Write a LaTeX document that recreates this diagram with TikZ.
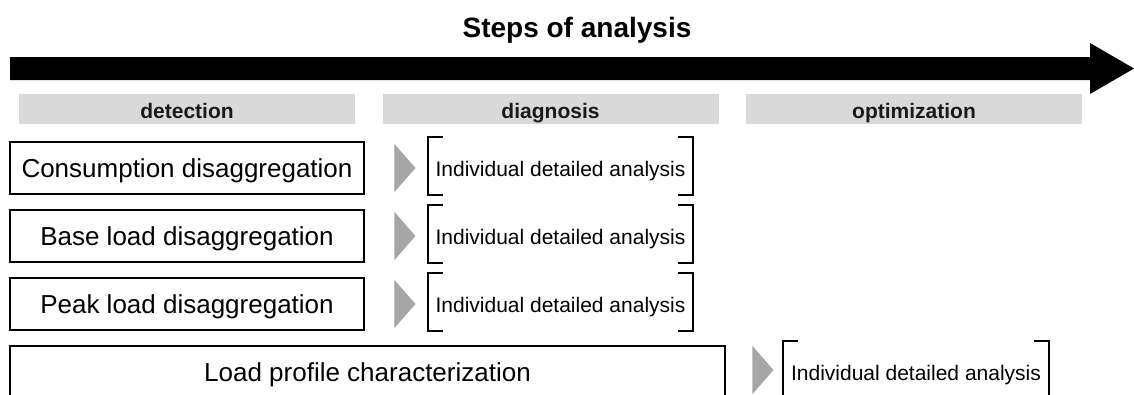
\documentclass[tikz,border=0pt]{standalone}
\usepackage{fontspec}
\setmainfont{Liberation Sans}
\usetikzlibrary{shapes.geometric}
\definecolor{barfill}{HTML}{D9D9D9}
\definecolor{pointer}{HTML}{A6A6A6}
\definecolor{ink}{HTML}{1A1A1A}
\begin{document}
\begin{tikzpicture}[x=1pt,y=-1pt,
  heading/.style={inner sep=0pt, font=\fontsize{28}{28}\selectfont\bfseries},
  phase/.style={fill=barfill, text=ink, minimum width=336pt, minimum height=30pt,
    inner sep=0pt, text height=18pt, text depth=0pt,
    font=\fontsize{21}{21}\selectfont\bfseries},
  task/.style={draw, line width=1.8pt, inner sep=0pt, minimum height=52pt,
    text height=18.6pt, text depth=0pt, font=\fontsize{26}{26}\selectfont},
  marker/.style={isosceles triangle, isosceles triangle stretches, fill=pointer,
    draw=none, minimum height=21pt, minimum width=48pt, inner sep=0pt},
  detail/.style={inner sep=0pt, minimum width=265pt, minimum height=58pt,
    text height=21pt, text depth=0pt, font=\fontsize{21}{21}\selectfont},
  bracketline/.style={line width=2.4pt},
]
\useasboundingbox (0,0) rectangle (1134,394);
\clip (0,0) rectangle (1134,394);

% title and time arrow
\node[heading] (title) at (577,30) {Steps of analysis};
\fill (10,57) -- (1090,57) -- (1090,43) -- (1134,68.5) -- (1090,94)
      -- (1090,80) -- (10,80) -- cycle;

% phase headers
\node[phase] (detection) at (187,109) {detection};
\node[phase] (diagnosis) at (550.5,109) {diagnosis};
\node[phase] (optimization) at (914,109) {optimization};

% detection tasks
\node[task, minimum width=354pt] (consumption) at (187,168) {Consumption disaggregation};
\node[task, minimum width=354pt] (base) at (187,236) {Base load disaggregation};
\node[task, minimum width=354pt] (peak) at (187,304) {Peak load disaggregation};
\node[task, minimum width=715pt] (profile) at (367.5,372) {Load profile characterization};

% pointers
\node[marker] (m1) at (403.5,168) {};
\node[marker] (m2) at (403.5,236) {};
\node[marker] (m3) at (403.5,304) {};
\node[marker] (m4) at (761.5,370) {};

% detailed analyses
\node[detail] (d1) at (560.5,166) {Individual detailed analysis};
\node[detail] (d2) at (560.5,234) {Individual detailed analysis};
\node[detail] (d3) at (560.5,302) {Individual detailed analysis};
\node[detail, minimum width=266pt] (d4) at (916,370) {Individual detailed analysis};

% square brackets around the detailed analyses
\foreach \d in {d1,d2,d3,d4}{
  \draw[bracketline] ([xshift=15pt]\d.north west) -- (\d.north west)
        -- (\d.south west) -- ([xshift=15pt]\d.south west);
  \draw[bracketline] ([xshift=-15pt]\d.north east) -- (\d.north east)
        -- (\d.south east) -- ([xshift=-15pt]\d.south east);
}
\end{tikzpicture}
\end{document}
